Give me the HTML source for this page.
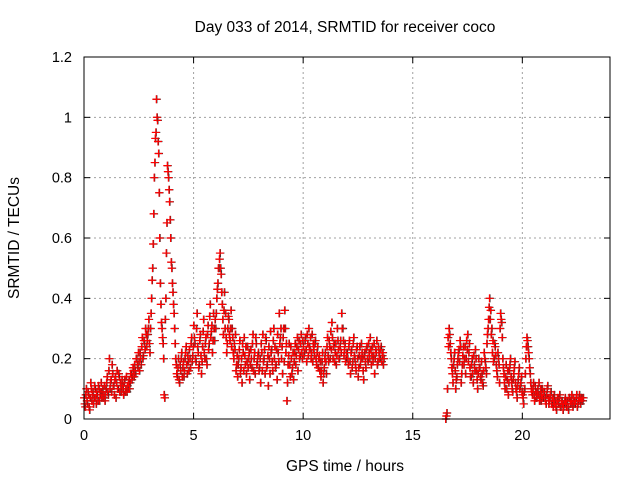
<!DOCTYPE html>
<html><head><meta charset="utf-8"><style>
body{margin:0;background:#fff}
svg{display:block;font-family:"Liberation Sans",sans-serif}
</style></head><body>
<svg id="chart" width="640" height="480">
<text x="345" y="32" text-anchor="middle" font-size="15.5">Day 033 of 2014, SRMTID for receiver coco</text>
<text x="345" y="471" text-anchor="middle" font-size="15.5">GPS time / hours</text>
<text transform="translate(19,238) rotate(-90)" text-anchor="middle" font-size="15.5">SRMTID / TECUs</text>
<g id="grid"></g><g id="ticks"></g><g id="marks"></g>
<rect x="84" y="57" width="526" height="362" fill="none" stroke="#000"/>
</svg>
<script>
const xTicks=[0,5,10,15,20];
const yTicks=[0,0.2,0.4,0.6,0.8,1,1.2];
const yTickLabels=["0","0.2","0.4","0.6","0.8","1","1.2"];
const segStarts=[0,16.5];
const stepHours=0.05;
const seg1Values=[0.07,0.04,0.1,0.05,0.08,0.03,0.12,0.06,0.09,0.07,0.1,0.05,0.08,0.11,0.06,0.09,0.07,0.1,0.08,0.06,
0.1,0.14,0.08,0.2,0.12,0.09,0.15,0.11,0.13,0.07,0.16,0.1,0.14,0.12,0.09,0.11,0.08,0.13,0.1,0.09,
0.1,0.13,0.12,0.15,0.14,0.16,0.18,0.15,0.2,0.17,0.19,0.22,0.18,0.27,0.21,0.25,0.3,0.24,0.28,0.33,
0.22,0.35,0.46,0.58,0.8,0.93,1.06,0.99,0.88,0.6,0.38,0.3,0.25,0.08,0.33,0.55,0.84,0.8,0.72,0.6,
0.5,0.42,0.35,0.25,0.18,0.14,0.2,0.12,0.16,0.22,0.17,0.14,0.2,0.24,0.15,0.19,0.23,0.17,0.27,0.21,
0.31,0.25,0.19,0.35,0.22,0.18,0.28,0.15,0.24,0.33,0.2,0.27,0.18,0.31,0.25,0.38,0.29,0.22,0.35,0.26,
0.3,0.4,0.45,0.5,0.55,0.48,0.38,0.28,0.42,0.35,0.22,0.3,0.33,0.26,0.36,0.3,0.22,0.25,0.28,0.18,
0.14,0.2,0.26,0.17,0.12,0.22,0.27,0.18,0.15,0.24,0.2,0.13,0.23,0.17,0.28,0.2,0.15,0.25,0.19,0.22,
0.17,0.12,0.22,0.28,0.2,0.15,0.26,0.18,0.11,0.2,0.29,0.23,0.16,0.3,0.24,0.18,0.13,0.22,0.35,0.27,
0.2,0.15,0.3,0.36,0.22,0.06,0.18,0.25,0.14,0.2,0.17,0.13,0.22,0.18,0.24,0.16,0.26,0.21,0.28,0.2,
0.24,0.22,0.27,0.19,0.25,0.3,0.23,0.2,0.28,0.25,0.21,0.26,0.18,0.24,0.2,0.16,0.14,0.19,0.12,0.17,
0.22,0.15,0.27,0.19,0.24,0.29,0.32,0.2,0.25,0.22,0.18,0.3,0.23,0.2,0.26,0.35,0.3,0.21,0.25,0.2,
0.22,0.18,0.26,0.15,0.23,0.19,0.27,0.2,0.16,0.24,0.14,0.21,0.18,0.25,0.2,0.13,0.22,0.17,0.24,0.19,
0.22,0.27,0.18,0.24,0.21,0.15,0.23,0.26,0.19,0.22,0.2,0.24,0.21,0.18];
const seg1bValues=[0.05,0.08,0.06,0.09,0.04,0.07,0.1,0.08,0.05,0.11,0.07,0.09,0.06,0.1,0.08,0.12,0.09,0.07,0.11,0.08,
0.12,0.09,0.16,0.1,0.13,0.18,0.11,0.08,0.14,0.12,0.1,0.15,0.09,0.11,0.13,0.1,0.12,0.09,0.14,0.11,
0.12,0.1,0.15,0.13,0.17,0.14,0.16,0.2,0.18,0.22,0.16,0.2,0.24,0.2,0.26,0.23,0.28,0.26,0.3,0.25,
0.3,0.4,0.5,0.68,0.85,0.95,1.0,0.92,0.75,0.45,0.32,0.27,0.2,0.07,0.4,0.65,0.82,0.76,0.66,0.52,
0.45,0.38,0.3,0.2,0.15,0.17,0.13,0.18,0.2,0.14,0.19,0.16,0.22,0.18,0.21,0.16,0.2,0.25,0.19,0.24,
0.27,0.2,0.3,0.24,0.17,0.26,0.21,0.19,0.29,0.22,0.25,0.2,0.28,0.23,0.34,0.27,0.31,0.26,0.3,0.33,
0.35,0.43,0.5,0.53,0.5,0.42,0.33,0.36,0.3,0.27,0.25,0.34,0.28,0.3,0.24,0.27,0.2,0.23,0.16,0.21,
0.18,0.23,0.15,0.2,0.25,0.16,0.21,0.24,0.19,0.17,0.22,0.18,0.2,0.25,0.16,0.22,0.27,0.18,0.21,0.16,
0.2,0.25,0.16,0.19,0.23,0.27,0.17,0.21,0.24,0.15,0.22,0.19,0.26,0.2,0.17,0.23,0.28,0.19,0.25,0.3,
0.24,0.27,0.19,0.3,0.25,0.12,0.21,0.18,0.24,0.15,0.22,0.19,0.25,0.21,0.27,0.23,0.2,0.25,0.22,0.26,
0.21,0.26,0.23,0.28,0.21,0.24,0.27,0.22,0.19,0.23,0.25,0.2,0.22,0.17,0.21,0.19,0.16,0.22,0.15,0.2,
0.19,0.24,0.21,0.26,0.2,0.23,0.27,0.24,0.19,0.25,0.21,0.26,0.2,0.24,0.22,0.3,0.26,0.23,0.19,0.22,
0.2,0.24,0.19,0.22,0.17,0.25,0.21,0.18,0.23,0.2,0.17,0.24,0.2,0.22,0.16,0.21,0.19,0.23,0.2,0.25,
0.2,0.23,0.21,0.19,0.25,0.2,0.22,0.18,0.24,0.2,0.23,0.19,0.22,0.2];
const seg2Values=[0,0.02,0.27,0.3,0.25,0.2,0.15,0.18,0.22,0.1,0.14,0.2,0.23,0.26,
0.12,0.18,0.24,0.2,0.15,0.26,0.28,0.22,0.17,0.14,0.2,0.12,0.18,0.23,0.16,0.1,
0.2,0.17,0.13,0.15,0.11,0.22,0.19,0.15,0.28,0.33,0.4,0.36,0.3,0.26,0.2,0.24,0.18,0.14,0.2,0.12,
0.35,0.32,0.2,0.15,0.1,0.18,0.13,0.08,0.16,0.2,0.12,0.09,0.15,0.19,0.1,0.07,0.13,0.17,0.11,0.14,
0.08,0.05,0.1,0.2,0.27,0.24,0.2,0.15,0.1,0.08,0.12,0.06,0.09,0.07,0.1,0.12,0.08,0.06,0.1,0.07,
0.09,0.06,0.08,0.11,0.05,0.07,0.09,0.06,0.04,0.08,0.06,0.03,0.07,0.05,0.08,0.04,0.06,0.03,0.05,0.07,
0.04,0.06,0.03,0.07,0.05,0.08,0.04,0.06,0.05,0.07,0.04,0.06,0.08,0.05,0.07,0.06];
const seg2bValues=[0.01,0.1,0.24,0.28,0.22,0.17,0.12,0.2,0.16,0.13,0.18,0.22,0.19,0.24,
0.15,0.21,0.18,0.24,0.2,0.23,0.19,0.25,0.14,0.18,0.15,0.21,0.16,0.2,0.13,0.15,
0.17,0.14,0.19,0.12,0.16,0.2,0.17,0.25,0.3,0.37,0.33,0.28,0.22,0.19,0.25,0.21,0.16,0.22,0.18,0.3,
0.33,0.27,0.17,0.12,0.14,0.1,0.16,0.12,0.18,0.14,0.1,0.13,0.17,0.12,0.09,0.11,0.15,0.1,0.12,0.09,
0.07,0.09,0.15,0.24,0.26,0.22,0.17,0.12,0.09,0.1,0.08,0.11,0.07,0.09,0.08,0.06,0.1,0.08,0.07,0.09,
0.07,0.05,0.1,0.07,0.06,0.08,0.05,0.07,0.06,0.05,0.04,0.06,0.05,0.07,0.04,0.06,0.05,0.04,0.06,0.05,
0.06,0.04,0.07,0.05,0.06,0.05,0.07,0.05,0.06,0.08,0.05,0.07,0.06,0.07,0.06,0.07];
const L=84,R=610,T=57,B=419;
const xs=v=>L+v/24*(R-L);
const ys=v=>B-v/1.2*(B-T);
const NS="http://www.w3.org/2000/svg";
function mk(tag,attrs,parent){const e=document.createElementNS(NS,tag);for(const k in attrs)e.setAttribute(k,attrs[k]);parent.appendChild(e);return e;}
const grid=document.getElementById('grid'),ticks=document.getElementById('ticks'),marks=document.getElementById('marks');
xTicks.forEach(t=>{const x=xs(t);
 if(t>0){const g=mk('line',{x1:x,x2:x,y1:T,y2:B,stroke:'#a0a0a0','stroke-dasharray':'2,3'},grid);
 
 }
 mk('line',{x1:x,x2:x,y1:B,y2:B-6,stroke:'#000'},ticks);mk('line',{x1:x,x2:x,y1:T,y2:T+6,stroke:'#000'},ticks);
 const tx=mk('text',{x:x,y:B+21,'text-anchor':'middle','font-size':14.5},ticks);tx.textContent=t;
 
 });
yTicks.forEach((t,i)=>{const y=ys(t);
 if(t>0&&t<1.2){const g=mk('line',{x1:L,x2:R,y1:y,y2:y,stroke:'#a0a0a0','stroke-dasharray':'2,3'},grid);
 
 }
 mk('line',{x1:L,x2:L+6,y1:y,y2:y,stroke:'#000'},ticks);mk('line',{x1:R,x2:R-6,y1:y,y2:y,stroke:'#000'},ticks);
 const tx=mk('text',{x:L-12,y:y+5,'text-anchor':'end','font-size':14.5},ticks);tx.textContent=yTickLabels[i];
 
 });
function plus(x,y,c){return mk('path',{d:`M${x-4},${y}h8M${x},${y-4}v8`,stroke:c,'stroke-width':1.2,fill:'none'},marks);}
const series=[[segStarts[0],0,seg1Values],[segStarts[0],0.025,seg1bValues],[segStarts[1],0,seg2Values],[segStarts[1],0.025,seg2bValues]];
series.forEach(([s,off,vals])=>{
 vals.forEach((v,i)=>{const x=xs(s+off+i*stepHours),y=ys(v);
  const b=plus(x+0.5,y,'#333');
  
  
  const p=plus(x,y,'#ff0000');
  
  });
});
</script>
</body></html>
